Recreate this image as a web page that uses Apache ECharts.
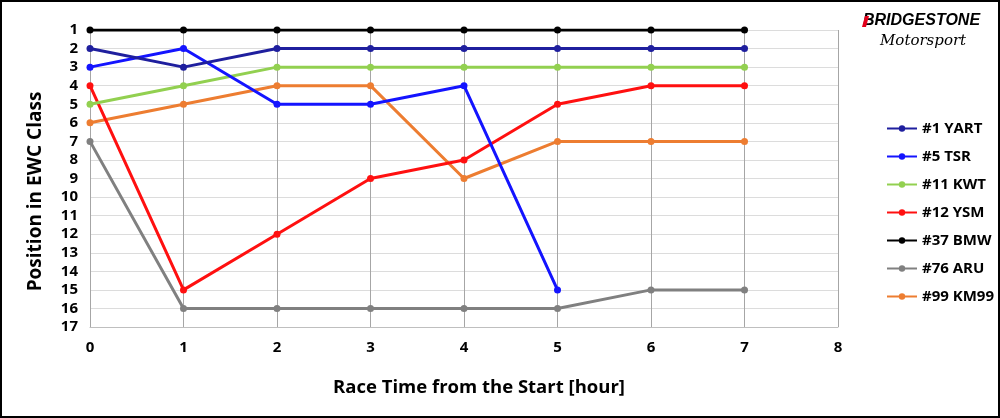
<!DOCTYPE html>
<html>
<head>
<meta charset="utf-8">
<script src="https://cdn.jsdelivr.net/npm/echarts@6/dist/echarts.min.js"></script>
<style>
  html, body { margin: 0; padding: 0; background: #fff; }
  #chart { width: 1000px; height: 418px; }
</style>
</head>
<body>
<div id="chart"></div>
<script>
// race hours (x) and class positions per team
const hours = [0, 1, 2, 3, 4, 5, 6, 7]
const teams = ['#1 YART', '#5 TSR', '#11 KWT', '#12 YSM', '#37 BMW', '#76 ARU', '#99 KM99']
const yart = [2, 3, 2, 2, 2, 2, 2, 2]
const tsr  = [3, 2, 5, 5, 4, 15]
const kwt  = [5, 4, 3, 3, 3, 3, 3, 3]
const ysm  = [4, 15, 12, 9, 8, 5, 4, 4]
const bmw  = [1, 1, 1, 1, 1, 1, 1, 1]
const aru  = [7, 16, 16, 16, 16, 16, 15, 15]
const km99 = [6, 5, 4, 4, 9, 7, 7, 7]
const positionTicks = [1, 17]
const hourTicks = [0, 8]

const TEAM_COLORS = ['#1f1f9e', '#1414ff', '#92d050', '#ff1010', '#000000', '#808080', '#ed7d31']
const positions = [yart, tsr, kwt, ysm, bmw, aru, km99]

const chart = echarts.init(document.getElementById('chart'))

const series = teams.map((name, i) => ({
  name,
  type: 'line',
  data: positions[i].map((p, j) => [hours[j], p]),
  symbol: 'circle',
  symbolSize: 7,
  lineStyle: { width: 3, color: TEAM_COLORS[i] },
  itemStyle: { color: TEAM_COLORS[i] },
  z: 10 - i,
}))

chart.setOption({
  backgroundColor: '#fff',
  animation: false,
  textStyle: { fontFamily: 'Open Sans' },
  grid: { left: 90, right: 162, top: 30, bottom: 91 },
  legend: {
    orient: 'vertical',
    left: 881, top: 116,
    itemGap: 13, itemWidth: 30, itemHeight: 8,
    textStyle: { color: '#000', fontSize: 15, fontWeight: 'bold', fontFamily: 'Open Sans' },
    data: teams,
  },
  xAxis: {
    type: 'value',
    min: hourTicks[0], max: hourTicks[1], interval: 1,
    name: 'Race Time from the Start [hour]',
    nameLocation: 'middle', nameGap: 51,
    nameTextStyle: { color: '#000', fontSize: 18.5, fontWeight: 'bold', fontFamily: 'Open Sans', padding: [0, 0, 0, 30] },
    axisLine: { lineStyle: { color: '#bfbfbf' } },
    axisTick: { show: false },
    axisLabel: { color: '#000', fontSize: 15, fontWeight: 'bold', margin: 13 },
    splitLine: { lineStyle: { color: '#a6a6a6' } },
  },
  yAxis: {
    type: 'value',
    inverse: true,
    min: positionTicks[0], max: positionTicks[1], interval: 1,
    name: 'Position in EWC Class',
    nameLocation: 'middle', nameGap: 45,
    nameTextStyle: { color: '#000', fontSize: 19, fontWeight: 'bold', fontFamily: 'Open Sans', padding: [0, 26, 0, 0] },
    axisLine: { show: false },
    axisTick: { show: false },
    axisLabel: { color: '#000', fontSize: 15, fontWeight: 'bold', margin: 12 },
    splitLine: { lineStyle: { color: '#dcdcdc' } },
  },
  graphic: [
    { type: 'rect', silent: true, z: 100,
      shape: { x: 1, y: 1, width: 998, height: 416 },
      style: { fill: 'none', stroke: '#000', lineWidth: 2 } },
    { type: 'text', left: 863, top: 13,
      style: { text: 'BRIDGESTONE', fill: '#000', font: 'italic 900 16px "Liberation Sans"' } },
    { type: 'polygon', z: 101, shape: { points: [[862, 27], [865, 16], [869, 16], [866, 27]] },
      style: { fill: '#e3001b' } },
    { type: 'text', left: 880, top: 34,
      style: { text: 'Motorsport', fill: '#000', font: 'italic 15px "DejaVu Serif"' } },
  ],
  series,
})
</script>
</body>
</html>
